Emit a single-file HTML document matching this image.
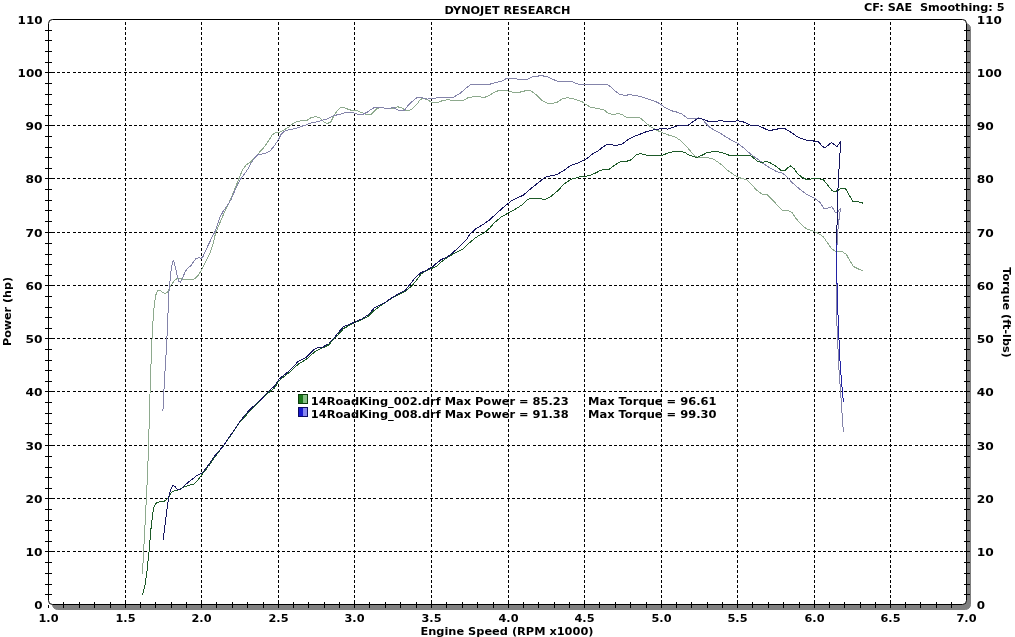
<!DOCTYPE html>
<html lang="en"><head><meta charset="utf-8"><title>Dynojet Research</title>
<style>
html,body{margin:0;padding:0;background:#fff;}
body{width:1015px;height:637px;overflow:hidden;}
svg{display:block;will-change:transform;}
.t{font-family:"DejaVu Sans","Liberation Sans",sans-serif;font-weight:bold;font-size:11px;fill:#000;}
.g{stroke:#000;stroke-width:1;stroke-dasharray:3 2.02;fill:none;shape-rendering:crispEdges;}
.k{stroke:#000;stroke-width:1;fill:none;shape-rendering:crispEdges;}
.c{fill:none;stroke-width:1;stroke-linejoin:round;stroke-linecap:butt;shape-rendering:crispEdges;}
</style></head><body>
<svg width="1015" height="637" viewBox="0 0 1015 637">
<rect x="0" y="0" width="1015" height="637" fill="#fff"/>
<rect x="52.5" y="23.5" width="918.0" height="586.0" rx="5" ry="5" fill="#808080" stroke="#808080" stroke-width="1"/>
<rect x="48.5" y="19.5" width="918.0" height="585.0" rx="4" ry="4" fill="#fff" stroke="#000" stroke-width="1"/>
<path class="g" d="M125.5 22.4V604.5M201.5 22.4V604.5M278.5 22.4V604.5M354.5 22.4V604.5M431.5 22.4V604.5M508.5 22.4V604.5M584.5 22.4V604.5M661.5 22.4V604.5M737.5 22.4V604.5M814.5 22.4V604.5M890.5 22.4V604.5"/>
<path class="g" style="stroke-dasharray:3 2.1" d="M52.1 72.5H123.0M124.0 72.5H199.0M200.0 72.5H276.0M277.0 72.5H352.0M353.0 72.5H429.0M430.0 72.5H506.0M507.0 72.5H582.0M583.0 72.5H659.0M660.0 72.5H735.0M736.0 72.5H812.0M813.0 72.5H888.0M889.0 72.5H966.0M52.1 125.5H123.0M124.0 125.5H199.0M200.0 125.5H276.0M277.0 125.5H352.0M353.0 125.5H429.0M430.0 125.5H506.0M507.0 125.5H582.0M583.0 125.5H659.0M660.0 125.5H735.0M736.0 125.5H812.0M813.0 125.5H888.0M889.0 125.5H966.0M52.1 178.5H123.0M124.0 178.5H199.0M200.0 178.5H276.0M277.0 178.5H352.0M353.0 178.5H429.0M430.0 178.5H506.0M507.0 178.5H582.0M583.0 178.5H659.0M660.0 178.5H735.0M736.0 178.5H812.0M813.0 178.5H888.0M889.0 178.5H966.0M52.1 232.5H123.0M124.0 232.5H199.0M200.0 232.5H276.0M277.0 232.5H352.0M353.0 232.5H429.0M430.0 232.5H506.0M507.0 232.5H582.0M583.0 232.5H659.0M660.0 232.5H735.0M736.0 232.5H812.0M813.0 232.5H888.0M889.0 232.5H966.0M52.1 285.5H123.0M124.0 285.5H199.0M200.0 285.5H276.0M277.0 285.5H352.0M353.0 285.5H429.0M430.0 285.5H506.0M507.0 285.5H582.0M583.0 285.5H659.0M660.0 285.5H735.0M736.0 285.5H812.0M813.0 285.5H888.0M889.0 285.5H966.0M52.1 338.5H123.0M124.0 338.5H199.0M200.0 338.5H276.0M277.0 338.5H352.0M353.0 338.5H429.0M430.0 338.5H506.0M507.0 338.5H582.0M583.0 338.5H659.0M660.0 338.5H735.0M736.0 338.5H812.0M813.0 338.5H888.0M889.0 338.5H966.0M52.1 391.5H123.0M124.0 391.5H199.0M200.0 391.5H276.0M277.0 391.5H352.0M353.0 391.5H429.0M430.0 391.5H506.0M507.0 391.5H582.0M583.0 391.5H659.0M660.0 391.5H735.0M736.0 391.5H812.0M813.0 391.5H888.0M889.0 391.5H966.0M52.1 445.5H123.0M124.0 445.5H199.0M200.0 445.5H276.0M277.0 445.5H352.0M353.0 445.5H429.0M430.0 445.5H506.0M507.0 445.5H582.0M583.0 445.5H659.0M660.0 445.5H735.0M736.0 445.5H812.0M813.0 445.5H888.0M889.0 445.5H966.0M52.1 498.5H123.0M124.0 498.5H199.0M200.0 498.5H276.0M277.0 498.5H352.0M353.0 498.5H429.0M430.0 498.5H506.0M507.0 498.5H582.0M583.0 498.5H659.0M660.0 498.5H735.0M736.0 498.5H812.0M813.0 498.5H888.0M889.0 498.5H966.0M52.1 551.5H123.0M124.0 551.5H199.0M200.0 551.5H276.0M277.0 551.5H352.0M353.0 551.5H429.0M430.0 551.5H506.0M507.0 551.5H582.0M583.0 551.5H659.0M660.0 551.5H735.0M736.0 551.5H812.0M813.0 551.5H888.0M889.0 551.5H966.0"/>
<path class="k" d="M63.5 602.0V607.5M79.5 602.0V607.5M94.5 602.0V607.5M110.5 602.0V607.5M125.5 602.0V607.5M140.5 602.0V607.5M155.5 602.0V607.5M171.5 602.0V607.5M186.5 602.0V607.5M201.5 602.0V607.5M216.5 602.0V607.5M232.5 602.0V607.5M247.5 602.0V607.5M263.5 602.0V607.5M278.5 602.0V607.5M293.5 602.0V607.5M308.5 602.0V607.5M324.5 602.0V607.5M339.5 602.0V607.5M354.5 602.0V607.5M369.5 602.0V607.5M385.5 602.0V607.5M400.5 602.0V607.5M416.5 602.0V607.5M431.5 602.0V607.5M446.5 602.0V607.5M462.5 602.0V607.5M477.5 602.0V607.5M493.5 602.0V607.5M508.5 602.0V607.5M523.5 602.0V607.5M538.5 602.0V607.5M554.5 602.0V607.5M569.5 602.0V607.5M584.5 602.0V607.5M599.5 602.0V607.5M615.5 602.0V607.5M630.5 602.0V607.5M646.5 602.0V607.5M661.5 602.0V607.5M676.5 602.0V607.5M691.5 602.0V607.5M707.5 602.0V607.5M722.5 602.0V607.5M737.5 602.0V607.5M752.5 602.0V607.5M768.5 602.0V607.5M783.5 602.0V607.5M799.5 602.0V607.5M814.5 602.0V607.5M829.5 602.0V607.5M844.5 602.0V607.5M860.5 602.0V607.5M875.5 602.0V607.5M890.5 602.0V607.5M905.5 602.0V607.5M920.5 602.0V607.5M936.5 602.0V607.5M951.5 602.0V607.5M45.0 30.5H52.0M964.0 30.5H970.0M45.0 40.5H52.0M964.0 40.5H970.0M45.0 51.5H52.0M964.0 51.5H970.0M45.0 62.5H52.0M964.0 62.5H970.0M45.0 72.5H52.0M964.0 72.5H970.0M45.0 83.5H52.0M964.0 83.5H970.0M45.0 94.5H52.0M964.0 94.5H970.0M45.0 104.5H52.0M964.0 104.5H970.0M45.0 115.5H52.0M964.0 115.5H970.0M45.0 125.5H52.0M964.0 125.5H970.0M45.0 136.5H52.0M964.0 136.5H970.0M45.0 147.5H52.0M964.0 147.5H970.0M45.0 157.5H52.0M964.0 157.5H970.0M45.0 168.5H52.0M964.0 168.5H970.0M45.0 178.5H52.0M964.0 178.5H970.0M45.0 189.5H52.0M964.0 189.5H970.0M45.0 200.5H52.0M964.0 200.5H970.0M45.0 210.5H52.0M964.0 210.5H970.0M45.0 221.5H52.0M964.0 221.5H970.0M45.0 232.5H52.0M964.0 232.5H970.0M45.0 243.5H52.0M964.0 243.5H970.0M45.0 254.5H52.0M964.0 254.5H970.0M45.0 264.5H52.0M964.0 264.5H970.0M45.0 275.5H52.0M964.0 275.5H970.0M45.0 285.5H52.0M964.0 285.5H970.0M45.0 296.5H52.0M964.0 296.5H970.0M45.0 307.5H52.0M964.0 307.5H970.0M45.0 317.5H52.0M964.0 317.5H970.0M45.0 328.5H52.0M964.0 328.5H970.0M45.0 338.5H52.0M964.0 338.5H970.0M45.0 349.5H52.0M964.0 349.5H970.0M45.0 360.5H52.0M964.0 360.5H970.0M45.0 370.5H52.0M964.0 370.5H970.0M45.0 381.5H52.0M964.0 381.5H970.0M45.0 391.5H52.0M964.0 391.5H970.0M45.0 402.5H52.0M964.0 402.5H970.0M45.0 413.5H52.0M964.0 413.5H970.0M45.0 423.5H52.0M964.0 423.5H970.0M45.0 434.5H52.0M964.0 434.5H970.0M45.0 445.5H52.0M964.0 445.5H970.0M45.0 456.5H52.0M964.0 456.5H970.0M45.0 467.5H52.0M964.0 467.5H970.0M45.0 477.5H52.0M964.0 477.5H970.0M45.0 488.5H52.0M964.0 488.5H970.0M45.0 498.5H52.0M964.0 498.5H970.0M45.0 509.5H52.0M964.0 509.5H970.0M45.0 520.5H52.0M964.0 520.5H970.0M45.0 530.5H52.0M964.0 530.5H970.0M45.0 541.5H52.0M964.0 541.5H970.0M45.0 551.5H52.0M964.0 551.5H970.0M45.0 562.5H52.0M964.0 562.5H970.0M45.0 573.5H52.0M964.0 573.5H970.0M45.0 584.5H52.0M964.0 584.5H970.0M45.0 594.5H52.0M964.0 594.5H970.0"/>
<path class="k" d="M48.5 605.0V608.0"/>
<path class="c" stroke="#8eaa8e" d="M142.3 573.5 L143.4 556.6 L144.5 534.9 L145.6 513.3 L146.7 491.6 L147.7 470.0 L148.4 450.0 L150.0 394.0 L151.6 347.0 L153.5 312.0 L154.6 303.8 L155.6 295.5 L157.6 290.6 L159.7 290.2 L162.5 292.4 L165.2 293.4 L167.3 292.7 L169.4 287.9 L171.5 284.4 L174.2 281.0 L177.7 277.8 L180.4 278.9 L185.3 279.3 L193.6 279.3 L196.3 277.5 L199.1 274.1 L201.6 269.9 L204.6 263.7 L209.3 254.7 L213.4 243.0 L215.5 233.3 L217.4 228.7 L221.6 218.7 L225.7 209.7 L228.5 204.0 L232.6 194.5 L238.1 180.7 L242.3 170.3 L246.4 164.8 L250.6 162.0 L256.1 156.5 L260.1 151.3 L264.2 147.1 L268.4 140.9 L272.5 134.6 L275.3 132.8 L278.5 132.5 L282.2 131.1 L287.8 127.7 L293.3 123.5 L297.5 121.4 L301.6 120.7 L307.2 120.3 L311.3 117.5 L315.5 116.6 L319.7 117.9 L323.8 122.1 L327.3 123.5 L330.7 122.1 L333.5 116.6 L337.0 111.0 L340.4 107.8 L343.9 107.5 L348.8 109.6 L352.9 110.6 L357.1 110.6 L361.2 112.4 L365.4 114.2 L370.9 114.5 L373.7 111.7 L377.2 108.2 L382.0 107.5 L387.1 108.8 L394.0 108.1 L397.4 106.7 L402.2 108.1 L405.7 110.5 L408.4 110.9 L412.5 108.8 L416.7 104.6 L420.1 99.8 L422.8 98.4 L427.7 99.8 L431.5 102.5 L438.0 102.5 L443.4 100.2 L448.9 99.8 L454.4 100.7 L462.7 100.7 L468.2 97.7 L473.7 96.6 L479.2 96.6 L484.0 97.7 L488.8 95.6 L494.8 92.1 L498.9 90.5 L504.4 90.3 L508.5 91.2 L513.8 92.5 L519.3 92.3 L524.9 90.9 L531.2 90.9 L536.0 94.6 L541.6 100.2 L547.2 103.0 L551.3 103.7 L556.9 102.3 L562.5 98.8 L567.3 97.7 L572.2 98.4 L577.8 100.2 L581.9 101.6 L585.0 103.9 L590.3 107.1 L597.2 108.5 L603.5 109.5 L608.4 113.4 L613.2 114.6 L618.1 113.7 L622.0 114.5 L626.6 117.5 L633.6 117.7 L639.8 117.7 L644.6 121.7 L650.2 126.6 L655.7 129.6 L661.5 132.4 L668.1 134.9 L675.1 137.0 L680.6 140.4 L686.1 146.0 L691.7 152.7 L696.5 157.1 L701.3 157.8 L708.2 157.8 L713.8 159.2 L720.7 164.1 L727.6 170.3 L734.5 175.2 L740.1 177.9 L746.8 179.9 L750.9 183.8 L756.5 190.0 L762.0 194.2 L767.5 194.9 L773.0 200.4 L778.6 206.6 L782.7 210.8 L788.2 210.4 L792.4 212.9 L796.5 219.1 L800.7 223.9 L806.2 228.7 L811.7 230.5 L817.3 232.9 L822.8 236.3 L826.9 241.9 L831.1 248.1 L835.2 251.3 L842.1 251.5 L846.3 254.3 L848.2 257.8 L853.4 266.4 L858.5 269.0 L863.4 271.2"/>
<path class="c" stroke="#8484aa" d="M162.9 411.3 L164.6 377.6 L166.5 347.0 L167.6 323.5 L168.0 313.0 L168.7 294.1 L170.1 280.3 L171.5 266.5 L173.3 260.2 L174.9 265.1 L177.0 274.8 L179.1 281.7 L180.4 282.4 L182.5 278.2 L185.3 271.3 L188.0 267.8 L190.8 265.8 L193.6 261.6 L196.3 258.2 L199.1 257.9 L201.6 258.2 L203.2 256.1 L207.9 245.7 L212.0 237.4 L215.5 230.5 L217.4 224.9 L219.5 218.0 L222.9 211.8 L227.1 205.6 L231.2 199.4 L235.4 189.0 L239.5 180.7 L245.1 173.1 L249.2 166.9 L251.3 162.7 L254.7 157.9 L258.2 154.5 L263.0 153.9 L265.6 153.4 L269.8 151.3 L273.9 146.4 L278.5 139.5 L280.9 134.6 L284.3 131.1 L289.2 129.7 L296.1 128.4 L301.6 126.3 L307.2 124.5 L311.3 122.8 L316.9 121.8 L322.4 120.3 L328.0 118.6 L333.5 115.6 L339.1 114.5 L344.6 112.8 L350.1 112.4 L355.0 113.1 L358.5 114.5 L362.6 114.5 L366.8 112.4 L370.9 109.6 L374.4 107.5 L379.2 107.5 L387.1 108.4 L394.0 107.7 L399.5 110.9 L404.3 110.5 L407.7 106.0 L412.5 101.2 L417.4 97.4 L421.5 97.7 L427.0 99.1 L431.5 98.8 L438.0 97.7 L444.8 97.7 L453.1 97.4 L459.9 93.5 L465.4 88.7 L470.2 84.9 L476.4 84.8 L483.3 84.8 L488.8 84.5 L494.8 82.8 L501.6 81.3 L505.8 78.9 L508.5 78.5 L513.8 78.5 L520.7 79.6 L527.0 79.3 L531.9 77.0 L537.4 76.2 L540.9 75.6 L547.2 76.6 L552.7 79.3 L558.3 81.4 L565.2 81.4 L572.2 81.8 L579.2 84.5 L585.0 84.5 L593.1 84.5 L600.0 84.5 L607.0 84.5 L611.1 87.0 L615.3 91.2 L619.5 94.2 L625.1 95.6 L629.2 94.6 L634.8 95.3 L640.8 96.7 L651.5 100.2 L657.1 102.2 L661.5 105.0 L665.4 107.8 L670.9 110.6 L676.4 112.0 L682.0 114.0 L687.5 118.2 L693.0 118.6 L698.6 117.9 L702.0 118.9 L705.5 123.1 L709.6 127.2 L715.2 130.7 L720.7 133.5 L726.2 137.0 L731.8 140.4 L738.0 143.5 L743.9 148.1 L750.8 154.3 L757.7 159.2 L763.2 163.4 L770.1 168.2 L777.0 171.7 L782.6 173.1 L788.1 177.9 L791.5 182.0 L795.2 185.2 L800.7 190.0 L807.6 194.9 L814.5 198.3 L820.0 202.5 L824.2 208.7 L828.3 208.0 L831.8 206.6 L835.2 212.2 L836.6 212.9 L840.5 208.7 L839.6 214.2 L838.2 226.7 L837.1 242.0 L836.3 268.0 L836.4 297.6 L837.1 330.0 L838.9 368.0 L840.7 393.0 L842.2 415.7 L843.4 432.0"/>
<path class="c" stroke="#1d5a28" d="M142.3 595.1 L144.7 586.9 L146.9 571.7 L149.0 552.3 L151.2 526.3 L153.4 509.0 L155.5 503.5 L159.2 501.8 L164.6 501.0 L168.5 498.1 L171.1 492.7 L174.4 490.6 L178.7 489.9 L184.1 486.9 L189.5 485.2 L193.9 484.1 L198.2 479.7 L201.4 475.4 L202.6 473.5 L208.5 466.5 L213.5 459.0 L218.5 452.0 L223.8 445.4 L228.5 438.5 L233.5 431.5 L239.5 422.5 L244.5 417.0 L250.5 410.5 L256.5 404.0 L261.8 398.8 L266.5 394.5 L270.5 391.0 L274.5 388.0 L279.1 380.5 L289.8 372.0 L298.1 364.3 L306.4 359.2 L314.7 351.8 L323.0 347.7 L328.5 345.0 L334.1 339.0 L339.6 333.0 L343.7 328.5 L349.3 325.5 L355.1 322.5 L361.7 319.7 L368.6 316.0 L374.2 310.5 L381.1 305.2 L385.3 302.5 L391.6 298.3 L398.5 294.5 L405.4 291.0 L408.1 288.9 L412.3 285.5 L417.1 279.3 L421.3 273.7 L427.5 270.3 L432.0 268.2 L437.2 265.9 L442.0 261.3 L446.8 257.8 L452.4 254.4 L457.9 251.6 L463.4 248.9 L468.9 243.3 L474.5 238.5 L478.6 235.7 L484.1 233.0 L489.7 228.1 L494.2 222.9 L501.2 217.1 L508.5 212.9 L516.4 208.5 L521.9 205.0 L527.5 199.8 L531.6 198.0 L538.6 198.0 L542.7 199.1 L546.2 199.1 L551.0 196.3 L558.0 190.5 L563.5 184.6 L570.4 179.5 L576.0 178.1 L581.5 176.3 L588.5 175.9 L595.4 173.1 L600.9 170.1 L607.9 169.4 L610.0 168.9 L614.2 165.4 L619.7 162.0 L626.6 161.3 L630.8 159.9 L636.3 155.0 L640.5 153.6 L646.0 155.0 L651.5 155.7 L661.5 155.7 L668.1 152.9 L673.7 151.6 L679.2 151.1 L684.7 152.3 L688.9 155.0 L693.0 156.4 L696.5 157.4 L701.3 155.7 L706.9 152.7 L712.4 151.8 L719.3 152.0 L724.8 153.6 L730.4 155.7 L738.0 156.0 L744.2 155.7 L750.8 155.7 L757.7 161.3 L761.9 162.7 L766.0 161.3 L770.1 162.7 L775.7 166.1 L781.9 171.0 L785.3 170.3 L790.1 165.7 L794.3 168.9 L797.7 173.8 L801.9 177.2 L807.4 180.0 L812.9 178.6 L818.4 178.6 L823.5 179.9 L828.3 185.9 L832.5 191.0 L836.6 191.0 L840.8 188.7 L845.6 188.7 L849.0 194.9 L853.2 201.8 L858.7 201.8 L863.5 203.3"/>
<path class="c" stroke="#161660" d="M163.1 539.7 L164.6 528.4 L166.8 511.1 L168.5 498.1 L170.7 489.5 L172.9 485.6 L175.0 486.2 L177.2 489.5 L179.8 489.9 L183.0 486.9 L187.4 483.0 L192.8 478.7 L197.1 475.4 L201.4 473.2 L202.6 472.5 L208.5 465.0 L213.5 457.5 L218.5 451.5 L223.8 445.4 L228.5 438.0 L233.5 431.0 L239.5 422.0 L244.5 415.5 L250.5 409.0 L256.5 403.5 L261.8 398.8 L266.5 393.5 L270.5 389.5 L274.5 386.0 L279.1 379.0 L289.8 370.5 L298.1 361.5 L306.4 357.3 L314.7 349.0 L318.5 347.4 L323.0 347.0 L328.5 343.5 L334.1 338.0 L339.6 331.0 L343.7 326.5 L349.3 324.5 L355.1 321.8 L361.7 319.0 L368.6 314.5 L374.2 308.0 L381.1 304.5 L385.3 302.3 L391.6 297.9 L398.5 293.8 L405.4 290.3 L410.2 284.1 L415.0 277.9 L420.6 273.0 L427.5 269.6 L432.0 267.2 L437.2 262.7 L441.3 259.5 L446.8 257.2 L452.4 253.0 L459.3 246.8 L466.2 239.9 L470.3 233.7 L475.9 228.8 L482.8 224.7 L489.7 219.8 L495.6 214.3 L502.5 208.1 L508.5 203.2 L512.2 200.2 L523.3 195.2 L531.6 188.0 L538.6 182.5 L544.8 177.3 L549.7 176.0 L556.6 174.6 L563.5 170.8 L570.4 165.6 L573.9 164.3 L577.4 163.6 L581.5 161.1 L585.0 159.7 L588.5 157.4 L592.6 153.9 L598.2 151.0 L602.3 147.3 L606.5 144.9 L612.0 144.6 L615.6 145.7 L622.5 143.9 L628.0 139.7 L633.6 136.6 L639.1 134.6 L646.0 131.8 L652.9 130.0 L661.5 128.6 L668.1 129.1 L673.7 127.2 L679.2 125.2 L684.7 125.6 L688.9 124.9 L693.0 121.7 L697.2 118.9 L702.0 118.9 L705.5 120.3 L709.6 121.7 L715.2 121.4 L720.7 120.7 L727.6 121.7 L734.5 121.3 L738.0 120.7 L743.9 122.1 L750.8 125.2 L759.1 125.9 L764.6 128.6 L769.4 130.7 L774.3 129.6 L779.8 128.6 L785.3 128.9 L790.8 132.1 L796.3 136.0 L801.9 138.8 L807.4 140.4 L814.5 141.1 L818.4 141.8 L822.6 146.7 L825.3 147.7 L828.8 144.6 L831.5 142.5 L834.3 144.6 L837.0 146.7 L840.8 141.0 L839.9 155.0 L838.3 180.0 L837.2 210.0 L836.8 243.0 L836.9 280.0 L838.1 317.7 L839.6 355.4 L841.4 380.5 L843.4 402.0"/>
<path class="c" stroke="#2222a4" d="M836.8 243 L836.9 280 L838.1 317.7 L839.6 355.4 L841.4 380.5 L843.4 402"/>
<text class="t" x="34.3" y="609.0" textLength="8.3" lengthAdjust="spacingAndGlyphs">0</text>
<text class="t" x="976.8" y="609.0" textLength="8.3" lengthAdjust="spacingAndGlyphs">0</text>
<text class="t" x="25.6" y="555.5" textLength="17" lengthAdjust="spacingAndGlyphs">10</text>
<text class="t" x="976.8" y="555.5" textLength="17" lengthAdjust="spacingAndGlyphs">10</text>
<text class="t" x="25.6" y="502.5" textLength="17" lengthAdjust="spacingAndGlyphs">20</text>
<text class="t" x="976.8" y="502.5" textLength="17" lengthAdjust="spacingAndGlyphs">20</text>
<text class="t" x="25.6" y="449.5" textLength="17" lengthAdjust="spacingAndGlyphs">30</text>
<text class="t" x="976.8" y="449.5" textLength="17" lengthAdjust="spacingAndGlyphs">30</text>
<text class="t" x="25.6" y="395.5" textLength="17" lengthAdjust="spacingAndGlyphs">40</text>
<text class="t" x="976.8" y="395.5" textLength="17" lengthAdjust="spacingAndGlyphs">40</text>
<text class="t" x="25.6" y="342.5" textLength="17" lengthAdjust="spacingAndGlyphs">50</text>
<text class="t" x="976.8" y="342.5" textLength="17" lengthAdjust="spacingAndGlyphs">50</text>
<text class="t" x="25.6" y="289.5" textLength="17" lengthAdjust="spacingAndGlyphs">60</text>
<text class="t" x="976.8" y="289.5" textLength="17" lengthAdjust="spacingAndGlyphs">60</text>
<text class="t" x="25.6" y="236.5" textLength="17" lengthAdjust="spacingAndGlyphs">70</text>
<text class="t" x="976.8" y="236.5" textLength="17" lengthAdjust="spacingAndGlyphs">70</text>
<text class="t" x="25.6" y="182.5" textLength="17" lengthAdjust="spacingAndGlyphs">80</text>
<text class="t" x="976.8" y="182.5" textLength="17" lengthAdjust="spacingAndGlyphs">80</text>
<text class="t" x="25.6" y="129.5" textLength="17" lengthAdjust="spacingAndGlyphs">90</text>
<text class="t" x="976.8" y="129.5" textLength="17" lengthAdjust="spacingAndGlyphs">90</text>
<text class="t" x="17.6" y="76.5" textLength="25" lengthAdjust="spacingAndGlyphs">100</text>
<text class="t" x="976.8" y="76.5" textLength="25" lengthAdjust="spacingAndGlyphs">100</text>
<text class="t" x="17.6" y="23.5" textLength="25" lengthAdjust="spacingAndGlyphs">110</text>
<text class="t" x="976.8" y="23.5" textLength="25" lengthAdjust="spacingAndGlyphs">110</text>
<text class="t" x="38.5" y="622" textLength="20" lengthAdjust="spacingAndGlyphs">1.0</text>
<text class="t" x="115.5" y="622" textLength="20" lengthAdjust="spacingAndGlyphs">1.5</text>
<text class="t" x="191.5" y="622" textLength="20" lengthAdjust="spacingAndGlyphs">2.0</text>
<text class="t" x="268.5" y="622" textLength="20" lengthAdjust="spacingAndGlyphs">2.5</text>
<text class="t" x="344.5" y="622" textLength="20" lengthAdjust="spacingAndGlyphs">3.0</text>
<text class="t" x="421.5" y="622" textLength="20" lengthAdjust="spacingAndGlyphs">3.5</text>
<text class="t" x="498.5" y="622" textLength="20" lengthAdjust="spacingAndGlyphs">4.0</text>
<text class="t" x="574.5" y="622" textLength="20" lengthAdjust="spacingAndGlyphs">4.5</text>
<text class="t" x="651.5" y="622" textLength="20" lengthAdjust="spacingAndGlyphs">5.0</text>
<text class="t" x="727.5" y="622" textLength="20" lengthAdjust="spacingAndGlyphs">5.5</text>
<text class="t" x="804.5" y="622" textLength="20" lengthAdjust="spacingAndGlyphs">6.0</text>
<text class="t" x="880.5" y="622" textLength="20" lengthAdjust="spacingAndGlyphs">6.5</text>
<text class="t" x="956.5" y="622" textLength="20" lengthAdjust="spacingAndGlyphs">7.0</text>
<text class="t" x="507.5" y="14" text-anchor="middle" textLength="126" lengthAdjust="spacingAndGlyphs">DYNOJET RESEARCH</text>
<text class="t" x="1004.5" y="11" text-anchor="end" xml:space="preserve" textLength="140.5" lengthAdjust="spacingAndGlyphs">CF: SAE  Smoothing: 5</text>
<text class="t" x="507" y="635" text-anchor="middle" textLength="173" lengthAdjust="spacingAndGlyphs">Engine Speed (RPM x1000)</text>
<text class="t" transform="translate(11.3 311.5) rotate(-90)" text-anchor="middle" textLength="69" lengthAdjust="spacingAndGlyphs">Power (hp)</text>
<text class="t" transform="translate(1002.8 312.5) rotate(90)" text-anchor="middle" textLength="90.5" lengthAdjust="spacingAndGlyphs">Torque (ft-lbs)</text>
<rect x="298" y="394" width="5" height="10" fill="#1a781a"/><rect x="303" y="394" width="5" height="10" fill="#88c088"/><rect x="298.5" y="394.5" width="9" height="9" fill="none" stroke="#0c3c0c" stroke-width="1" shape-rendering="crispEdges"/>
<rect x="298" y="407" width="5" height="10" fill="#1818d0"/><rect x="303" y="407" width="5" height="10" fill="#8888f0"/><rect x="298.5" y="407.5" width="9" height="9" fill="none" stroke="#0c0c60" stroke-width="1" shape-rendering="crispEdges"/>
<text class="t" x="310.8" y="404.5" textLength="257.8" lengthAdjust="spacingAndGlyphs">14RoadKing_002.drf Max Power = 85.23</text>
<text class="t" x="588" y="404.5" textLength="128.5" lengthAdjust="spacingAndGlyphs">Max Torque = 96.61</text>
<text class="t" x="310.8" y="417.5" textLength="257.8" lengthAdjust="spacingAndGlyphs">14RoadKing_008.drf Max Power = 91.38</text>
<text class="t" x="588" y="417.5" textLength="128.5" lengthAdjust="spacingAndGlyphs">Max Torque = 99.30</text>
</svg>
</body></html>
